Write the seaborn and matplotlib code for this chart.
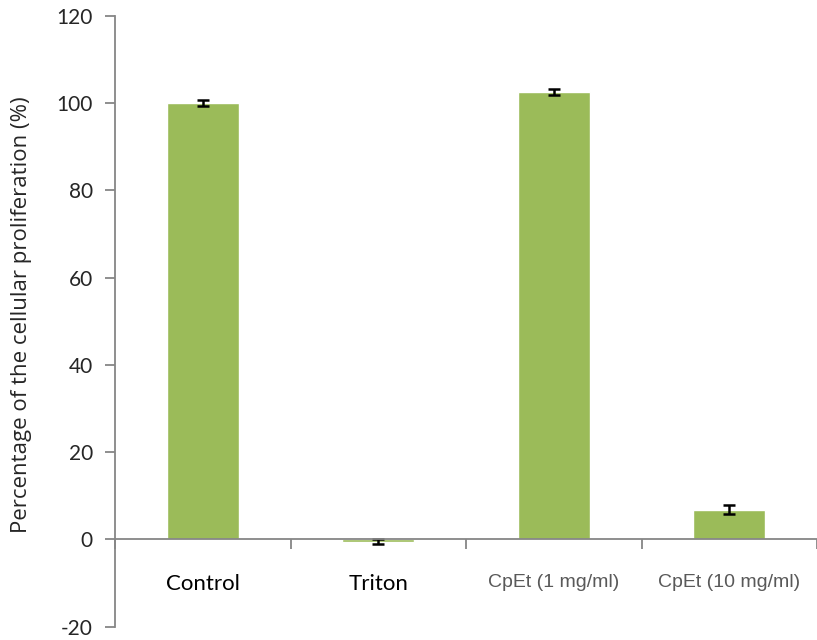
import numpy as np
import pandas as pd
import matplotlib
matplotlib.use("Agg")
import matplotlib.pyplot as plt
import seaborn as sns

# values
categories = ["Control", "Triton", "CpEt (1 mg/ml)", "CpEt (10 mg/ml)"]
values = [100.0, -0.5, 102.5, 6.8]
errors = [0.7, 0.5, 0.7, 1.0]
yticks = [-20, 0, 20, 40, 60, 80, 100, 120]

sns.set_style("white")
plt.rcParams['font.family'] = ['Lato', 'DejaVu Sans']
plt.rcParams['axes.unicode_minus'] = False

df = pd.DataFrame({"group": categories, "value": values})

fig = plt.figure(figsize=(8.17, 6.4), dpi=100)
ax = fig.add_axes([0.141, 0.021, 0.859, 0.954])

sns.barplot(data=df, x="group", y="value", color="#9BBB59", width=0.41,
            saturation=1, errorbar=None, ax=ax)
ax.errorbar(np.arange(len(values)), values, yerr=errors, fmt="none",
            ecolor="black", elinewidth=1.8, capsize=4, capthick=1.8)

ax.set_ylim(-20, 120)
ax.set_xlim(-0.5, 3.5)
ax.set_yticks(yticks)
ax.set_xlabel("")
ax.set_ylabel("Percentage of the cellular proliferation (%)", fontsize=16,
              family="Open Sans")
ax.yaxis.set_label_coords(-0.118, 0.51)

for s in ["top", "right"]:
    ax.spines[s].set_visible(False)
for s in ["left", "bottom"]:
    ax.spines[s].set_color("#868686")
    ax.spines[s].set_linewidth(1.3)
ax.spines["bottom"].set_position(("data", 0))

ax.tick_params(axis="y", direction="out", length=7, width=1.3, color="#868686",
               labelsize=15, pad=9, left=True)
ax.tick_params(axis="x", which="major", length=0, pad=25)
ax.set_xticks(np.arange(-0.5, 3.6, 1), minor=True)
ax.tick_params(axis="x", which="minor", direction="out", length=7, width=1.3,
               color="#868686", bottom=True)

for i, lab in enumerate(ax.get_xticklabels()):
    if i < 2:
        lab.set_fontsize(16)
        lab.set_color("black")
    else:
        lab.set_fontfamily("Liberation Sans")
        lab.set_fontsize(14)
        lab.set_color("#595959")

fig.savefig("out.png", dpi=100)
